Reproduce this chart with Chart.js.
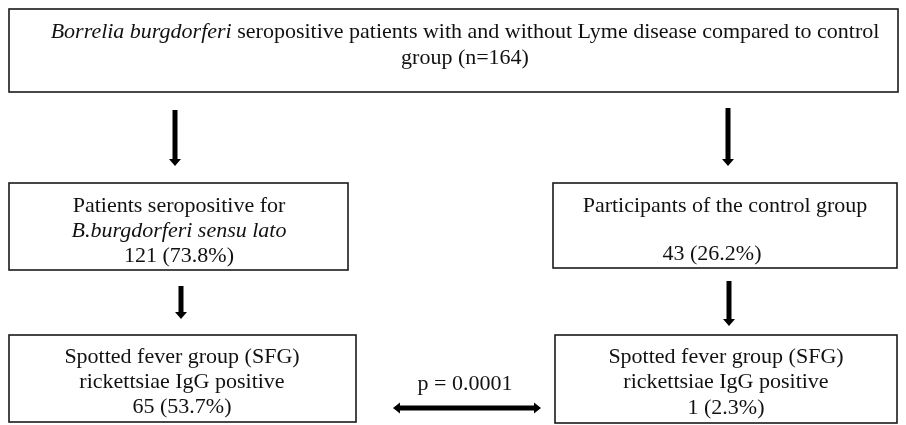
<!DOCTYPE html>
<html>
<head>
<meta charset="utf-8">
<script src="https://cdn.jsdelivr.net/npm/chart.js@4.4.1/dist/chart.umd.min.js"></script>
<style>
  html, body { margin: 0; padding: 0; background: #fff; }
  #wrap { width: 906px; height: 425px; }
</style>
</head>
<body>
<div id="wrap"><canvas id="flow" width="906" height="425"></canvas></div>
<script>
// Donnees du schema
const totalN = 164;
const groupNames = ['Patients seropositive for', 'Participants of the control group'];
const groupCounts = [121, 43];
const groupPercents = [73.8, 26.2];
const sfgCounts = [65, 1];
const sfgPercents = [53.7, 2.3];
const pValue = '0.0001';

// Mise en page (coordonnees dans les unites des axes)
const boxes = [
  { x0: 9, y0: 9, x1: 898, y1: 92 },
  { x0: 9, y0: 183, x1: 348, y1: 270 },
  { x0: 553, y0: 183, x1: 897, y1: 268 },
  { x0: 9, y0: 335, x1: 356, y1: 422 },
  { x0: 555, y0: 335, x1: 897, y1: 423 }
];
const downArrows = [
  { x: 175, y0: 110, y1: 166 },
  { x: 728, y0: 108, y1: 166 },
  { x: 181, y0: 286, y1: 319 },
  { x: 729, y0: 281, y1: 326 }
];

const FONT = '"Liberation Serif", "Times New Roman", serif';
const SIZE = 22;

const texts = [
  { cx: 465, cy: 32, runs: [['Borrelia burgdorferi', true], [' seropositive patients with and without Lyme disease compared to control', false]] },
  { cx: 465, cy: 58, runs: [['group (n=' + totalN + ')', false]] },
  { cx: 179, cy: 206, runs: [[groupNames[0], false]] },
  { cx: 179, cy: 231, runs: [['B.burgdorferi sensu lato', true]] },
  { cx: 179, cy: 256, runs: [[groupCounts[0] + ' (' + groupPercents[0] + '%)', false]] },
  { cx: 725, cy: 206, runs: [[groupNames[1], false]] },
  { cx: 712, cy: 254, runs: [[groupCounts[1] + ' (' + groupPercents[1] + '%)', false]] },
  { cx: 182, cy: 357, runs: [['Spotted fever group (SFG)', false]] },
  { cx: 182, cy: 382, runs: [['rickettsiae IgG positive', false]] },
  { cx: 182, cy: 407, runs: [[sfgCounts[0] + ' (' + sfgPercents[0] + '%)', false]] },
  { cx: 726, cy: 357, runs: [['Spotted fever group (SFG)', false]] },
  { cx: 726, cy: 382, runs: [['rickettsiae IgG positive', false]] },
  { cx: 726, cy: 408, runs: [[sfgCounts[1] + ' (' + sfgPercents[1] + '%)', false]] },
  { cx: 465, cy: 384, runs: [['p = ' + pValue, false]] }
];

function fontFor(italic) {
  return (italic ? 'italic ' : '') + SIZE + 'px ' + FONT;
}

// Plugin qui dessine le schema avec les echelles du graphique
const flowPlugin = {
  id: 'flow',
  afterDatasetsDraw(chart) {
    const ctx = chart.ctx;
    const sx = chart.scales.x, sy = chart.scales.y;
    const px = v => sx.getPixelForValue(v);
    const py = v => sy.getPixelForValue(v);
    ctx.save();

    // cadres
    ctx.strokeStyle = '#1a1a1a';
    ctx.lineWidth = 1.6;
    boxes.forEach(b => {
      ctx.strokeRect(px(b.x0), py(b.y0), px(b.x1) - px(b.x0), py(b.y1) - py(b.y0));
    });

    // fleches verticales
    ctx.fillStyle = '#000';
    downArrows.forEach(a => {
      const x = px(a.x), top = py(a.y0), tip = py(a.y1);
      ctx.fillRect(x - 2.5, top, 5, tip - top - 6);
      ctx.beginPath();
      ctx.moveTo(x - 6, tip - 7);
      ctx.lineTo(x + 6, tip - 7);
      ctx.lineTo(x, tip);
      ctx.closePath();
      ctx.fill();
    });

    // double fleche
    const l = px(393), r = px(541), y = py(408);
    ctx.fillRect(l + 5, y - 2.5, r - l - 10, 5);
    ctx.beginPath();
    ctx.moveTo(l, y); ctx.lineTo(l + 7, y - 5.5); ctx.lineTo(l + 7, y + 5.5); ctx.closePath();
    ctx.moveTo(r, y); ctx.lineTo(r - 7, y - 5.5); ctx.lineTo(r - 7, y + 5.5); ctx.closePath();
    ctx.fill();

    // textes
    ctx.fillStyle = '#111';
    ctx.textBaseline = 'middle';
    ctx.textAlign = 'left';
    texts.forEach(t => {
      let w = 0;
      t.runs.forEach(r => { ctx.font = fontFor(r[1]); w += ctx.measureText(r[0]).width; });
      let x = px(t.cx) - w / 2;
      t.runs.forEach(r => {
        ctx.font = fontFor(r[1]);
        ctx.fillText(r[0], x, py(t.cy));
        x += ctx.measureText(r[0]).width;
      });
    });
    ctx.restore();
  }
};

new Chart(document.getElementById('flow').getContext('2d'), {
  type: 'scatter',
  data: { datasets: [{ data: [], pointRadius: 0 }] },
  options: {
    responsive: false,
    animation: false,
    layout: { padding: 0 },
    plugins: { legend: { display: false }, tooltip: { enabled: false } },
    scales: {
      x: { type: 'linear', min: 0, max: 906, display: false },
      y: { type: 'linear', min: 0, max: 425, reverse: true, display: false }
    }
  },
  plugins: [flowPlugin]
});
</script>
</body>
</html>
